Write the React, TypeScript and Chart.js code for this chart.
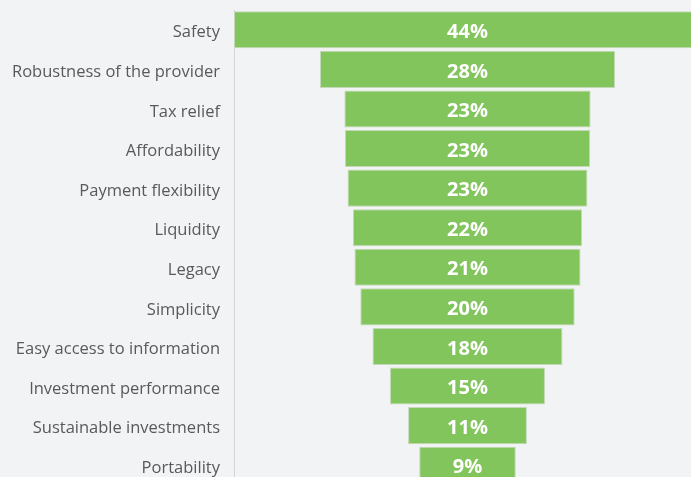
import React, { useEffect, useRef } from "react";
import { Chart, registerables } from "chart.js";

Chart.register(...registerables);

const categories = [
  "Safety",
  "Robustness of the provider",
  "Tax relief",
  "Affordability",
  "Payment flexibility",
  "Liquidity",
  "Legacy",
  "Simplicity",
  "Easy access to information",
  "Investment performance",
  "Sustainable investments",
  "Portability",
];

const values = [44, 27.8, 23.2, 23.1, 22.6, 21.6, 21.3, 20.2, 17.9, 14.6, 11.2, 9.1];

const valueLabels = ["44%", "28%", "23%", "23%", "23%", "22%", "21%", "20%", "18%", "15%", "11%", "9%"];

const BG = "#f2f3f5";

const centerLabels = {
  id: "centerLabels",
  afterDatasetsDraw(chart: any) {
    const ctx = chart.ctx;
    const meta = chart.getDatasetMeta(0);
    ctx.save();
    ctx.fillStyle = "#ffffff";
    ctx.font = "bold 20px 'Open Sans'";
    ctx.textAlign = "center";
    ctx.textBaseline = "middle";
    meta.data.forEach((bar: any, i: number) => {
      ctx.fillText(valueLabels[i], (bar.x + bar.base) / 2, bar.y + 2.5);
    });
    ctx.restore();
  },
};

export default function App() {
  const ref = useRef<HTMLCanvasElement | null>(null);
  useEffect(() => {
    if (!ref.current) return;
    const chart = new Chart(ref.current, {
      type: "bar",
      data: {
        labels: categories,
        datasets: [
          {
            data: values.map((v) => [-v / 2, v / 2]) as any,
            backgroundColor: "#83c55d",
            borderColor: "#c4d9b8",
            borderWidth: 1,
            borderSkipped: false,
            barPercentage: 0.935,
            categoryPercentage: 1,
          },
        ],
      },
      options: {
        indexAxis: "y",
        animation: false,
        responsive: false,
        layout: { padding: { top: 10, right: 0, bottom: 0, left: 0 } },
        plugins: { legend: { display: false }, tooltip: { enabled: false } },
        scales: {
          x: { display: false, min: -22, max: 22 },
          y: {
            grid: { display: false },
            border: { display: true, color: "#d4d5d7", width: 1 },
            ticks: {
              color: "#595959",
              font: { family: "'Open Sans'", size: 16.5 },
              padding: 6,
              labelOffset: 3,
            },
            afterFit(scale: any) {
              scale.width = 234;
              scale.paddingTop = 0;
              scale.paddingBottom = 0;
            },
          },
        },
      },
      plugins: [centerLabels],
    });
    return () => chart.destroy();
  }, []);
  return (
    <div
      style={{
        position: "fixed",
        left: 0,
        top: 0,
        width: 691,
        height: 477,
        overflow: "hidden",
        background: BG,
      }}
    >
      <canvas ref={ref} width={701} height={485} style={{ display: "block" }} />
    </div>
  );
}
